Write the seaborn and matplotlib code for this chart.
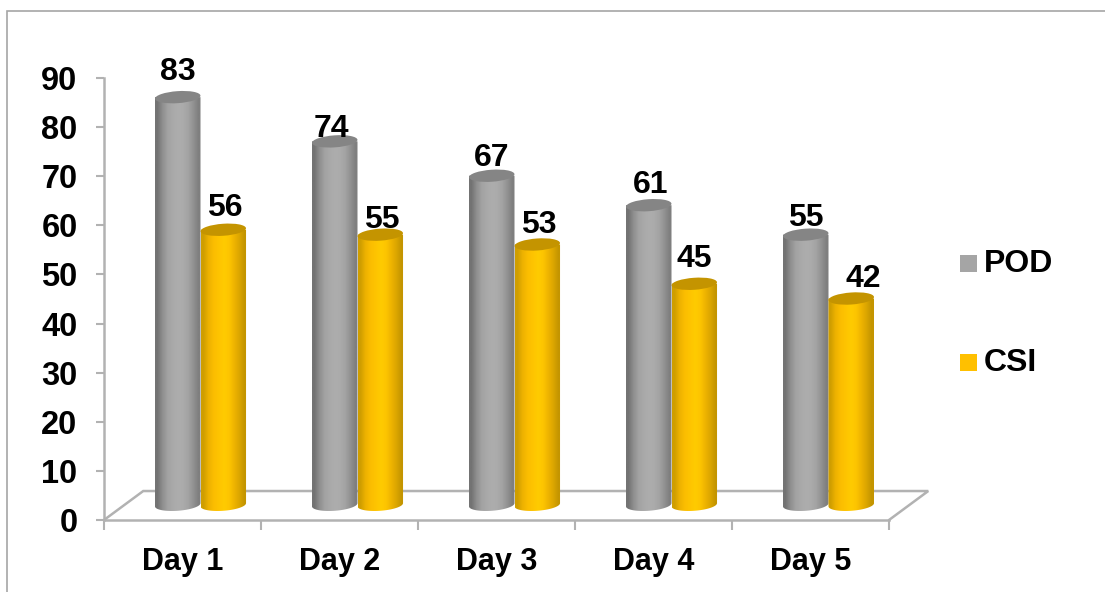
import matplotlib
matplotlib.use('Agg')
import matplotlib.pyplot as plt
from matplotlib.patches import Ellipse, PathPatch, Rectangle
from matplotlib.path import Path
from matplotlib.transforms import IdentityTransform
import seaborn as sns
import numpy as np
import pandas as pd

days = ['Day 1', 'Day 2', 'Day 3', 'Day 4', 'Day 5']
pod = [83, 74, 67, 61, 55]
csi = [56, 55, 53, 45, 42]
y_ticks = [0, 10, 20, 30, 40, 50, 60, 70, 80, 90]

# pixel nudges for the value labels, the source placed them by hand
pod_nudge = [(0, 25), (-3, 12), (0, 18), (2, 20), (0, 17)]
csi_nudge = [(2, 22), (2, 15), (2, 19), (0, 25), (12, 20)]

W, H = 1105, 592
GREY = '#b2b2b2'
FONT = ['Liberation Sans', 'DejaVu Sans']

sns.set_theme(style='white')
plt.rcParams['font.family'] = FONT
plt.rcParams['font.weight'] = 'bold'
plt.rcParams['font.size'] = 22


def px_x(x):
    return x / W


def px_y(y):
    return 1 - y / H


def draw_cylinder(ax, patch, colors, top_color, zorder):
    """Repaint a flat bar as a shaded cylinder, keeps the bar's data coords."""
    x0, x1 = patch.get_x(), patch.get_x() + patch.get_width()
    y0, y1 = patch.get_y(), patch.get_y() + patch.get_height()
    patch.set_visible(False)

    # size of the end caps in pixels
    to_px = ax.transData
    (px0, py0), (px1, py1) = to_px.transform([(x0, y0), (x1, y1)])
    rx, ry = (px1 - px0) / 2, 6
    tilt = 0.07
    cx = (px0 + px1) / 2

    t = np.linspace(np.pi, 2 * np.pi, 40)
    low = np.column_stack([cx + rx * np.cos(t), py0 + ry * np.sin(t) + tilt * rx * np.cos(t)])
    outline = np.vstack([[(px0, py1)], low, [(px1, py1)], [(px0, py1)]])
    clip = PathPatch(Path(outline), transform=IdentityTransform(), fc='none', ec='none')
    ax.add_patch(clip)

    grad = np.array([colors])
    im = ax.imshow(grad, extent=(x0, x1, 0, y1), aspect='auto', zorder=zorder,
                   interpolation='bilinear')
    im.set_clip_path(clip)

    ax.add_patch(Ellipse((cx, py1), 2 * rx, 2 * ry, angle=4, fc=top_color, ec='none',
                         transform=IdentityTransform(), zorder=zorder + 0.1, clip_on=False))
    return cx, py1


df = pd.DataFrame({
    'day': days * 2,
    'value': pod + csi,
    'series': ['POD'] * 5 + ['CSI'] * 5,
})

fig = plt.figure(figsize=(W / 100, H / 100), dpi=100)
fig.add_artist(Rectangle((px_x(7), px_y(H + 10)), px_x(W + 10), px_y(11) - px_y(H + 10),
                         transform=fig.transFigure, fc='none', ec='#a6a6a6', lw=1.2))

ax = fig.add_axes([px_x(104), px_y(520), px_x(889 - 104), px_y(78) - px_y(520)])
sns.barplot(data=df, x='day', y='value', hue='series', palette=['#a5a5a5', '#ffc000'],
            hue_order=['POD', 'CSI'], width=0.58, gap=0, ax=ax, legend=False)
ax.set_xlim(-0.5, 4.5)
ax.set_ylim(0, 90)
ax.set_xlabel('')
ax.set_ylabel('')
ax.patch.set_alpha(0)

for side in ['top', 'right']:
    ax.spines[side].set_visible(False)
for side in ['left', 'bottom']:
    ax.spines[side].set_color(GREY)
    ax.spines[side].set_linewidth(1.8)

ax.set_yticks(y_ticks)
ax.set_xticks(np.arange(-0.5, 5), labels=[])
ax.set_xticks(np.arange(5), labels=days, minor=True)
ax.tick_params(axis='y', which='major', length=6, width=1.5, color=GREY, pad=13,
               left=True, labelsize=23.5, labelcolor='black')
ax.tick_params(axis='x', which='major', length=7, width=1.5, color=GREY, bottom=True)
ax.tick_params(axis='x', which='minor', length=0, pad=19.5, labelsize=22, labelcolor='black')

# floor of the fake 3D box
depth_x, depth_y = 0.25, 5.9
ax.plot([-0.5, -0.5 + depth_x, 4.5 + depth_x, 4.5], [0, depth_y, depth_y, 0],
        color=GREY, lw=1.8, clip_on=False, zorder=1, solid_joinstyle='miter')

grey_grad = ['#737373', '#8f8f8f', '#a2a2a2', '#a9a9a9', '#adadad', '#ababab', '#a3a3a3', '#929292', '#7f7f7f']
gold_grad = ['#cf9e00', '#edb200', '#fbbd00', '#fec400', '#ffcb00', '#fdc500', '#efb400', '#dba600', '#c49500']
tops = {'grey': '#858585', 'gold': '#c49400'}

series_draw = [
    (ax.containers[0], grey_grad, tops['grey'], pod, pod_nudge, 3),
    (ax.containers[1], gold_grad, tops['gold'], csi, csi_nudge, 4),
]
shift_x = 18 / 157
lift = 3.1
for bars, grad, top, vals, nudge, z in series_draw:
    rgb = np.array([matplotlib.colors.to_rgb(c) for c in grad])
    for patch, val, (dx, dy) in zip(bars, vals, nudge):
        patch.set_x(patch.get_x() + shift_x)
        patch.set_y(lift)
        cx, cy = draw_cylinder(ax, patch, rgb, top, z)
        fig.text((cx + dx) / W, (cy + dy) / H, str(val), ha='center', va='center',
                 color='black', fontsize=23, fontweight='bold')

ax.set_xlim(-0.5, 4.5)
ax.set_ylim(0, 90)

# legend swatches
for name, color, y, ty in [('POD', '#a5a5a5', 263, 264), ('CSI', '#ffc000', 362, 363)]:
    fig.add_artist(Rectangle((px_x(960), px_y(y + 8.5)), 17 / W, 17 / H,
                             transform=fig.transFigure, fc=color, ec='none'))
    fig.text(px_x(984), px_y(ty), name, ha='left', va='center', color='black',
             fontsize=23, fontweight='bold')

fig.savefig('out.png', dpi=100)
plt.close(fig)
